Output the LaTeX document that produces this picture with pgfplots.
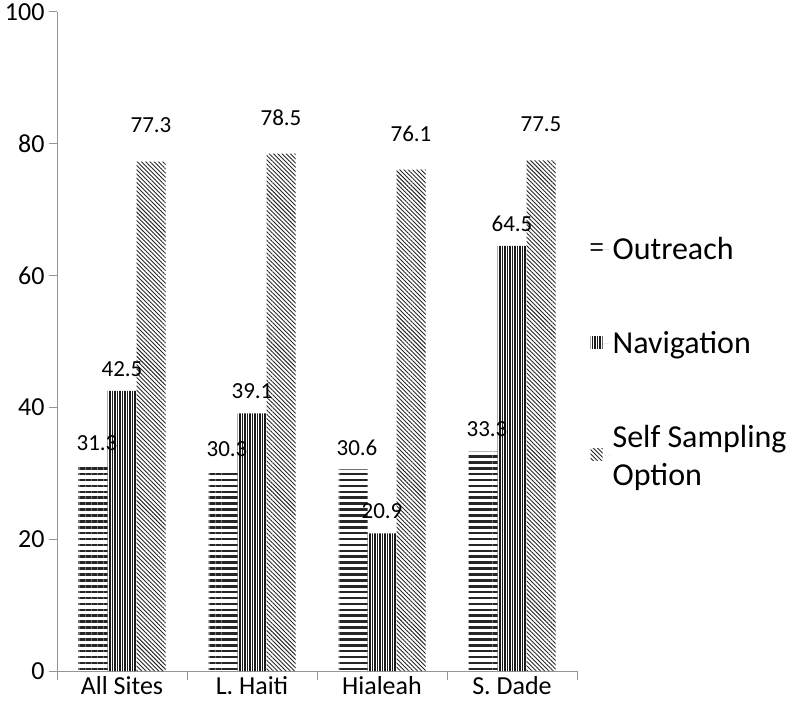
\documentclass[border=0pt]{standalone}
\usepackage{pgfplots}
\pgfplotsset{compat=1.18}
\usepackage{fontspec}
\setmainfont{Carlito}
\usetikzlibrary{patterns.meta}
\definecolor{axgray}{RGB}{150,150,150}
\tikzset{lbl/.style={anchor=center, font=\fontsize{23}{26}\selectfont, text=black,
    /pgf/number format/fixed, /pgf/number format/precision=1, /pgf/number format/fixed zerofill}}
\begin{document}
\begin{tikzpicture}[x=1pt,y=1pt]
\path[use as bounding box] (0,0) rectangle (797,716);
\begin{axis}[
  at={(57pt,45pt)}, anchor=south west,
  scale only axis, width=520pt, height=659pt,
  ymin=0, ymax=100, xmin=-0.5, xmax=3.5,
  ytick={0,20,...,100},
  xtick={0,1,2,3}, xticklabels={All Sites, L. Haiti, Hialeah, S. Dade},
  minor xtick={-0.5,0.5,1.5,2.5,3.5},
  axis lines*=left,
  axis line style={axgray, line width=1pt},
  tick align=outside,
  major tick length=8pt, minor tick length=9pt,
  tick style={axgray, line width=1pt},
  major x tick style={draw=none},
  /pgf/number format/assume math mode=true,
  yticklabel style={font=\fontsize{26}{30}\selectfont, xshift=-1pt},
  xticklabel style={font=\fontsize{26}{30}\selectfont, yshift=6pt},
  ybar=0pt, bar width=29pt,
  legend style={at={(1.02,0.664)}, anchor=north west, draw=none, fill=none,
    font=\fontsize{32}{38}\selectfont, row sep=66pt,
    cells={anchor=west, align=left}},
  legend image code/.code={\fill[#1] (0pt,-5pt) rectangle (12pt,7pt); \path (0pt,0pt) -- (20pt,0pt);},
]
\addplot[draw=none, pattern={Lines[angle=0,distance=5.9pt,line width=2.6pt]}, pattern color=black!85,
  nodes near coords, nodes near coords style={lbl, yshift=22pt, xshift=4pt}]
  coordinates {(0,31.3) (1,30.3) (2,30.6) (3,33.3)};
\addplot[draw=none, pattern={Lines[angle=90,distance=2.5pt,line width=1.3pt]}, pattern color=black!90,
  nodes near coords, nodes near coords style={lbl, yshift=22pt}]
  coordinates {(0,42.5) (1,39.1) (2,20.9) (3,64.5)};
\addplot[draw=none, pattern={Lines[angle=-45,distance=3pt,line width=0.9pt]}, pattern color=black!85,
  nodes near coords, nodes near coords style={lbl, yshift=36pt}]
  coordinates {(0,77.3) (1,78.5) (2,76.1) (3,77.5)};
\legend{Outreach, Navigation, {Self Sampling\\Option}}
\end{axis}
\end{tikzpicture}
\end{document}
